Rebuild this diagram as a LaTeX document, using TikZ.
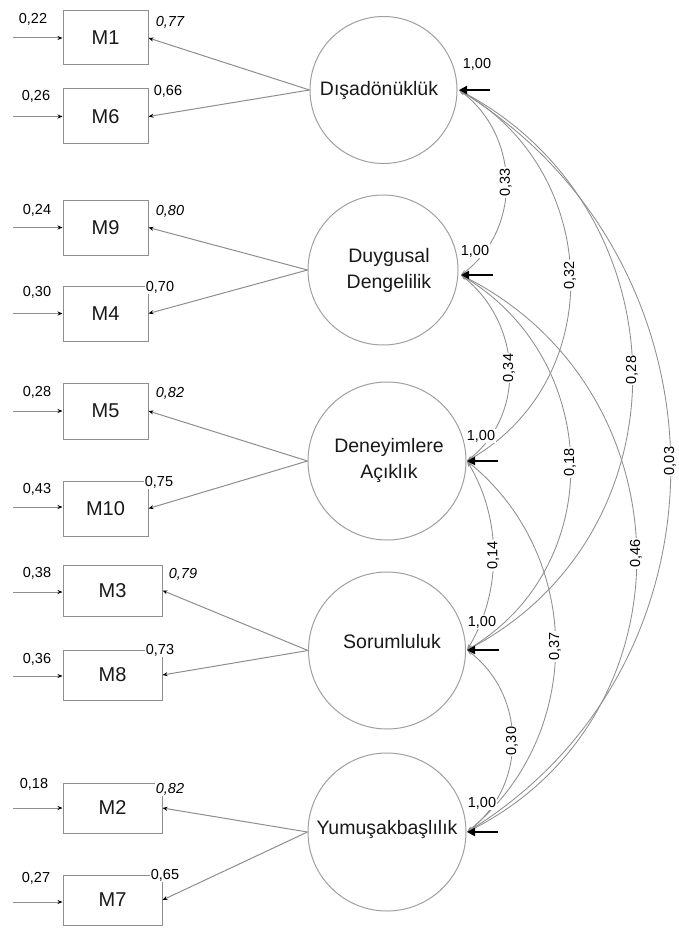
\documentclass[tikz,border=0pt]{standalone}
\usepackage{fontspec}
\setmainfont{Liberation Sans}
\usetikzlibrary{arrows.meta,calc}
\definecolor{ln}{HTML}{8E8E8E}
\definecolor{cl}{HTML}{A0A0A0}
\begin{document}
\begin{tikzpicture}[x=1pt,y=-1pt,
  fac/.style={circle,draw=cl,line width=1pt,inner sep=0pt},
  ftxt/.style={font=\fontsize{19.5}{26}\selectfont,align=center,text=black!90,inner sep=0pt},
  obs/.style={rectangle,draw=ln,line width=1pt,font=\fontsize{20}{23}\selectfont,text=black!90,inner sep=0pt},
  num/.style={font=\fontsize{14.5}{16}\selectfont,fill=white,inner sep=1pt,text=black},
  inum/.style={num,font=\fontsize{14.5}{16}\selectfont\itshape},
  ind/.style={draw=ln,line width=1pt,-{Stealth[length=5pt,width=4pt,color=black]}},
  err/.style={ind},
  var/.style={line width=2.4pt,-{Triangle[length=8pt,width=8pt]}},
  cor/.style={draw=ln,line width=0.85pt,{Stealth[length=6pt,width=4pt]}-{Stealth[length=6pt,width=4pt]}},
  clab/.style={num,rotate=90}
]
\useasboundingbox (0,0) rectangle (678,928);
\fill[white] (0,0) rectangle (678,928);

% factors
\node[fac,minimum size=147pt] (F1) at (383.5,90) {};
\node[fac,minimum size=150pt] (F2) at (383,270) {};
\node[fac,minimum size=158pt] (F3) at (387,461) {};
\node[fac,minimum size=157pt] (F4) at (387,650.5) {};
\node[fac,minimum size=158pt] (F5) at (387,832) {};

\node[ftxt] (T1) at (379,91) {Dışadönüklük};
\node[ftxt] (T2) at (389,270) {Duygusal\\Dengelilik};
\node[ftxt] (T3) at (389,460) {Deneyimlere\\Açıklık};
\node[ftxt] (T4) at (392,642) {Sorumluluk};
\node[ftxt] (T5) at (387,829) {Yumuşakbaşlılık};

% observed variables
\node[obs,minimum width=85pt,minimum height=54pt] (M1) at (105.5,38) {M1};
\node[obs,minimum width=85pt,minimum height=55pt] (M6) at (105.5,116.5) {M6};
\node[obs,minimum width=85pt,minimum height=55pt] (M9) at (105.5,227.5) {M9};
\node[obs,minimum width=85pt,minimum height=55pt] (M4) at (105.5,313.5) {M4};
\node[obs,minimum width=85pt,minimum height=56pt] (M5) at (105.5,411) {M5};
\node[obs,minimum width=85pt,minimum height=55pt] (M10) at (105.5,508.5) {M10};
\node[obs,minimum width=99pt,minimum height=51pt] (M3) at (112.5,590.5) {M3};
\node[obs,minimum width=99pt,minimum height=50pt] (M8) at (112.5,675) {M8};
\node[obs,minimum width=99pt,minimum height=50pt] (M2) at (112.5,808) {M2};
\node[obs,minimum width=99pt,minimum height=50pt] (M7) at (112.5,900) {M7};

% error terms
\coordinate (e1) at (13,38);
\coordinate (e6) at (13,116.5);
\coordinate (e9) at (13,227.5);
\coordinate (e4) at (13,313.5);
\coordinate (e5) at (13,411);
\coordinate (e10) at (13,507);
\coordinate (e3) at (13,592);
\coordinate (e8) at (13,676);
\coordinate (e2) at (13,808);
\coordinate (e7) at (13,902);
\foreach \m in {1,6,9,4,5,10,3,8,2,7}{
  \draw[err] (e\m) -- (e\m -| M\m.west);
}

% loadings
\draw[ind] (F1.west) -- (M1.east);
\draw[ind] (F1.west) -- (M6.east);
\draw[ind] (F2.west) -- (M9.east);
\draw[ind] (F2.west) -- (M4.east);
\draw[ind] (F3.west) -- (M5.east);
\draw[ind] (F3.west) -- (M10.east);
\draw[ind] (F4.west) -- (M3.east);
\draw[ind] (F4.west) -- (M8.east);
\draw[ind] (F5.west) -- (M2.east);
\draw[ind] (F5.west) -- (M7.east);

% variance arrow anchors
\coordinate (f1) at (459,90);
\coordinate (f2) at (461,275);
\coordinate (f3) at (467,461);
\coordinate (f4) at (467,650);
\coordinate (f5) at (467,832);
\coordinate (s1) at (490,90);
\coordinate (s2) at (493,275);
\coordinate (s3) at (498,461);
\coordinate (s4) at (499,650);
\coordinate (s5) at (498,832);

% correlations
\draw[cor] (f1) .. controls ($(f1)+(61,46)$) and ($(f2)+(61,-46)$) .. (f2) node[clab,pos=0.5] (c12) {0,33};
\draw[cor] (f2) .. controls ($(f2)+(60,48)$) and ($(f3)+(60,-48)$) .. (f3) node[clab,pos=0.5] (c23) {0,34};
\draw[cor] (f3) .. controls ($(f3)+(35,58)$) and ($(f4)+(35,-58)$) .. (f4) node[clab,pos=0.5] (c34) {0,14};
\draw[cor] (f4) .. controls ($(f4)+(60,46)$) and ($(f5)+(60,-46)$) .. (f5) node[clab,pos=0.5] (c45) {0,30};
\draw[cor] (f1) .. controls ($(f1)+(142.6,81.7)$) and ($(f3)+(142.6,-81.7)$) .. (f3) node[clab,pos=0.5] (c13) {0,32};
\draw[cor] (f2) .. controls ($(f2)+(141.4,85)$) and ($(f4)+(141.4,-85)$) .. (f4) node[clab,pos=0.5] (c24) {0,18};
\draw[cor] (f3) .. controls ($(f3)+(117.3,95.8)$) and ($(f5)+(117.3,-95.8)$) .. (f5) node[clab,pos=0.5] (c35) {0,37};
\draw[cor] (f1) .. controls ($(f1)+(225.2,118.7)$) and ($(f4)+(225.2,-118.7)$) .. (f4) node[clab,pos=0.5] (c14) {0,28};
\draw[cor] (f2) .. controls ($(f2)+(229.3,114.9)$) and ($(f5)+(229.3,-114.9)$) .. (f5) node[clab,pos=0.5] (c25) {0,46};
\draw[cor] (f1) .. controls ($(f1)+(276,170.4)$) and ($(f5)+(276,-170.4)$) .. (f5) node[clab,pos=0.5] (c15) {0,03};

% variances
\foreach \i in {1,...,5}{ \draw[var] (s\i) -- (f\i); }
\node[num] (v1) at (477,64) {1,00};
\node[num] (v2) at (475,251) {1,00};
\node[num] (v3) at (481,436) {1,00};
\node[num] (v4) at (482,622) {1,00};
\node[num] (v5) at (482,803) {1,00};

% error labels
\node[num] (r1) at (33,19) {0,22};
\node[num] (r6) at (36,96) {0,26};
\node[num] (r9) at (37,210) {0,24};
\node[num] (r4) at (37,292) {0,30};
\node[num] (r5) at (37,392) {0,28};
\node[num] (r10) at (37,489) {0,43};
\node[num] (r3) at (37,573) {0,38};
\node[num] (r8) at (37,659) {0,36};
\node[num] (r2) at (34,784) {0,18};
\node[num] (r7) at (36,878) {0,27};

% loading labels
\node[inum] (l1) at (170,22) {0,77};
\node[num] (l6) at (168,91) {0,66};
\node[inum] (l9) at (170,211) {0,80};
\node[num] (l4) at (160,287) {0,70};
\node[inum] (l5) at (170,393) {0,82};
\node[num] (l10) at (159,482) {0,75};
\node[inum] (l3) at (183,574) {0,79};
\node[num] (l8) at (160,650) {0,73};
\node[inum] (l2) at (170,789) {0,82};
\node[num] (l7) at (165,875) {0,65};
\end{tikzpicture}
\end{document}
